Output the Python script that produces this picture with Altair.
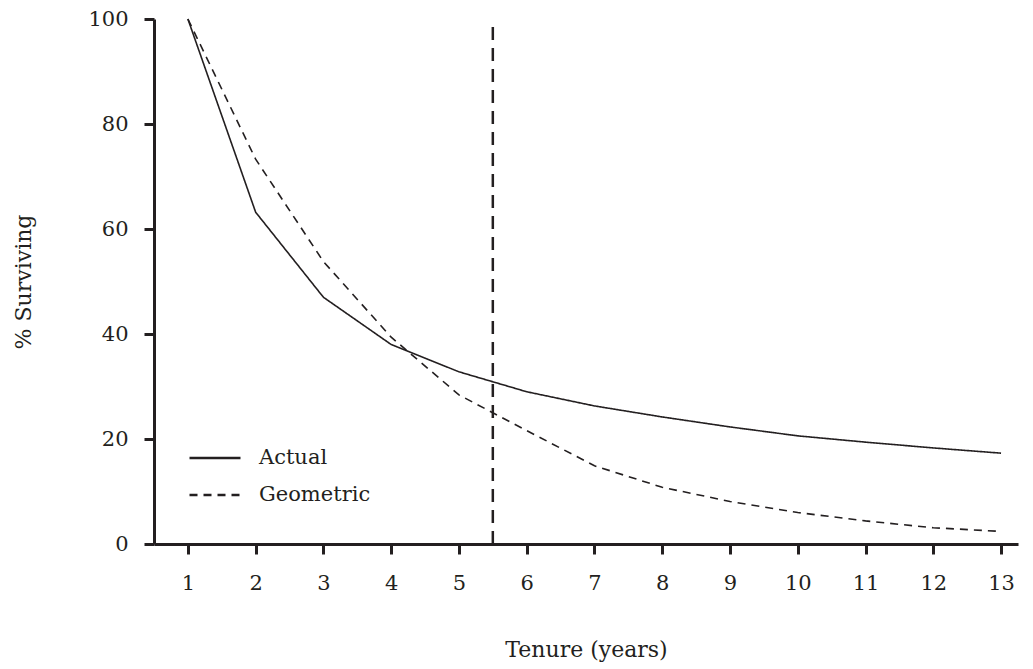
import altair as alt
import pandas as pd

tenure = list(range(1, 14))
actual = [100, 63.2, 47.0, 38.0, 32.8, 29.0, 26.3, 24.2, 22.3, 20.6, 19.4, 18.3, 17.3]
geometric = [100, 73.3, 53.8, 39.4, 28.4, 21.6, 14.9, 10.8, 8.1, 6.0, 4.4, 3.1, 2.4]
series = ["Actual", "Geometric"]
x_ticks = list(range(1, 14))
y_ticks = [0, 20, 40, 60, 80, 100]
cutoff_x = [5.5]
cutoff_bottom = [0]
cutoff_top = [98.5]

INK = "#231f20"
FONT = "DejaVu Serif"

rows = []
for t, a, g in zip(tenure, actual, geometric):
    rows.append({"tenure": t, "pct": a, "series": series[0]})
    rows.append({"tenure": t, "pct": g, "series": series[1]})
df = pd.DataFrame(rows)

xscale = alt.Scale(domain=[0.5, 13.25], nice=False, zero=False)
yscale = alt.Scale(domain=[0, 100], nice=False)

lines = alt.Chart(df).mark_line(color=INK, strokeWidth=1.6).encode(
    x=alt.X("tenure:Q", scale=xscale,
            axis=alt.Axis(values=x_ticks, title="Tenure (years)", format="d",
                          labelPadding=18, titlePadding=46)),
    y=alt.Y("pct:Q", scale=yscale,
            axis=alt.Axis(values=y_ticks, title="% Surviving",
                          labelPadding=16, titlePadding=52)),
    strokeDash=alt.StrokeDash(
        "series:N",
        scale=alt.Scale(domain=series, range=[[1, 0], [8, 6]]),
        legend=alt.Legend(title=None, orient="none", legendX=34, legendY=412,
                          symbolType="stroke", symbolSize=2601,
                          symbolStrokeWidth=2.5, symbolStrokeColor=INK,
                          labelFont=FONT, labelFontSize=21, labelColor=INK,
                          labelOffset=17, rowPadding=0),
    ),
)

cut = alt.Chart(pd.DataFrame({"x": cutoff_x, "y0": cutoff_bottom, "y1": cutoff_top})).mark_rule(
    color=INK, strokeWidth=2.5, strokeDash=[13, 8]
).encode(x=alt.X("x:Q", scale=xscale), y=alt.Y("y0:Q", scale=yscale), y2="y1:Q")

chart = alt.layer(lines, cut).properties(
    width=864, height=525,
    padding={"left": 4, "top": 0, "right": 5, "bottom": 5},
    background="white",
).configure_view(stroke=None).configure_axis(
    grid=False, domainColor=INK, domainWidth=3, tickColor=INK, tickWidth=3,
    tickSize=10, labelFont=FONT, labelFontSize=21, labelColor=INK,
    titleFont=FONT, titleFontSize=22, titleColor=INK, titleFontWeight="normal",
)

chart.save("out.html", embed_options={"renderer": "svg", "actions": False})
